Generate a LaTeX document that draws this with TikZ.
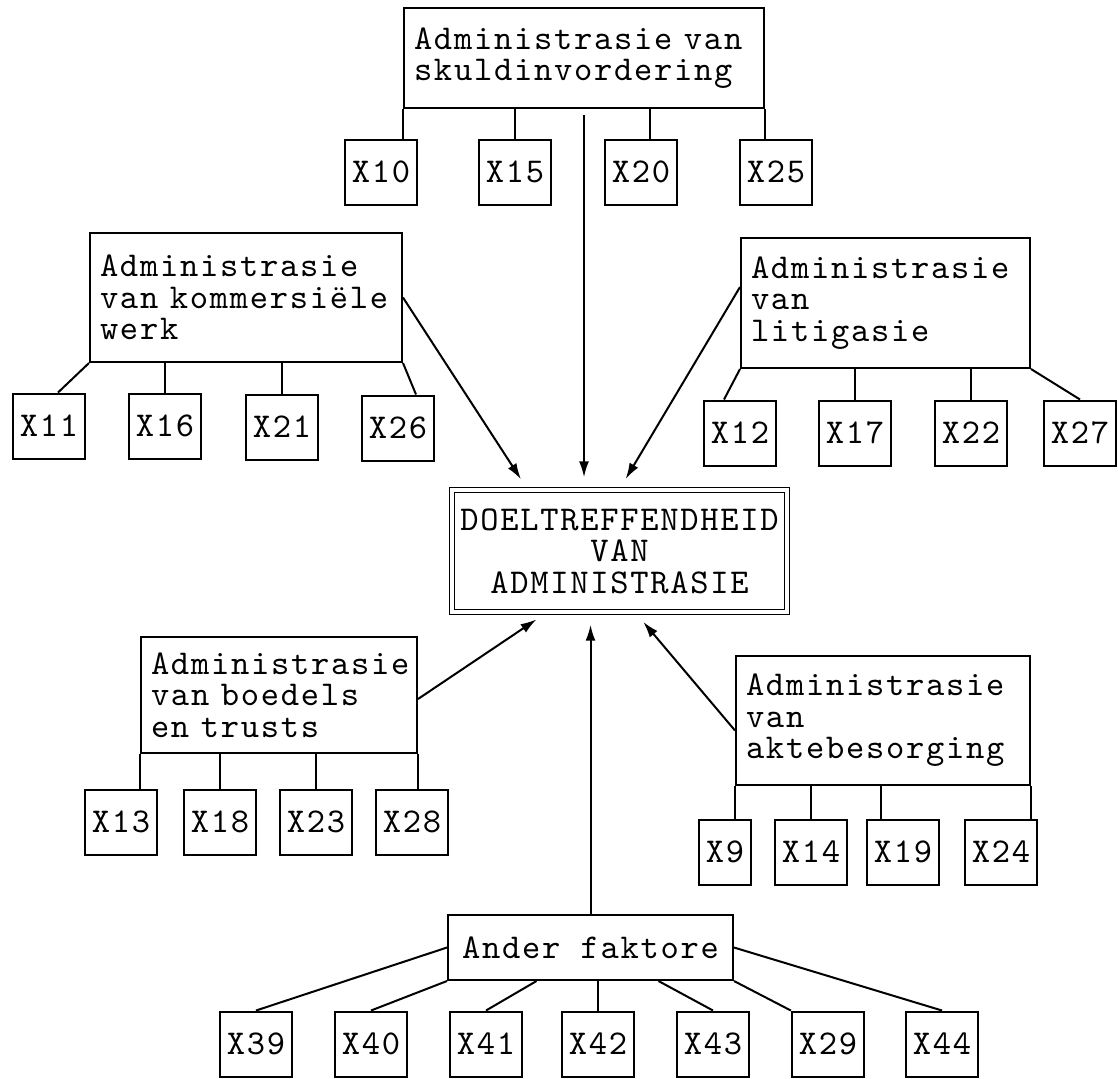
\documentclass[tikz,border=0pt]{standalone}
\usepackage{fontspec}
\newfontfamily\typew{lmmono10-regular.otf}[LetterSpace=5]
\usepackage{tikz}
\usetikzlibrary{arrows.meta}

\begin{document}
\begin{tikzpicture}[
    x=0.5pt, y=-0.5pt,
    every node/.style={font=\fontsize{17.4}{15.8}\selectfont\typew},
    admin/.style={draw, line width=1pt, align=left, inner xsep=5pt, inner ysep=0pt},
    target/.style={draw, double, double distance=1.6pt, line width=0.7pt, align=center, minimum width=167.5pt, minimum height=61pt},
    xbox/.style={draw, line width=1pt, inner xsep=3.5pt, minimum height=32.5pt},
    link/.style={line width=1pt},
    flow/.style={-{Latex[length=8pt,width=5pt]}, line width=1pt, shorten >=6pt}
]
\useasboundingbox (0,0) rectangle (1118,1078);
% main boxes
\node[admin, text width=170pt, minimum height=50pt] (skuld) at (584,58) {Administrasie van\\skuldinvordering};
\node[admin, text width=146pt, minimum height=64.5pt] (kommers) at (246,297.5) {Administrasie\\van kommersiële\\werk};
\node[admin, text width=134.5pt, minimum height=65pt] (litig) at (885.5,303) {Administrasie\\van\\litigasie};
\node[target] (doel) at (619.5,551) {DOELTREFFENDHEID\\VAN\\ADMINISTRASIE};
\node[admin, text width=128pt, minimum height=58pt] (boedel) at (279,695) {Administrasie\\van boedels\\en trusts};
\node[admin, text width=137pt, minimum height=64.5pt] (akte) at (883,720.5) {Administrasie\\van\\aktebesorging};
\node[admin, minimum width=142.5pt, minimum height=32.5pt] (ander) at (590.5,947.5) {Ander faktore};
% variables
\node[xbox] (x10) at (381,172) {X10};
\node[xbox] (x15) at (515,172) {X15};
\node[xbox] (x20) at (641,172) {X20};
\node[xbox] (x25) at (776,172) {X25};
\node[xbox] (x11) at (49,426) {X11};
\node[xbox] (x16) at (165,426) {X16};
\node[xbox] (x21) at (282,427) {X21};
\node[xbox] (x26) at (398,428) {X26};
\node[xbox] (x12) at (740,433) {X12};
\node[xbox] (x17) at (855,433) {X17};
\node[xbox] (x22) at (971,433) {X22};
\node[xbox] (x27) at (1080,433) {X27};
\node[xbox] (x13) at (121,822) {X13};
\node[xbox] (x18) at (220,822) {X18};
\node[xbox] (x23) at (316,822) {X23};
\node[xbox] (x28) at (412,822) {X28};
\node[xbox] (x9) at (725,852) {X9};
\node[xbox] (x14) at (811,852) {X14};
\node[xbox] (x19) at (903,852) {X19};
\node[xbox] (x24) at (1001,852) {X24};
\node[xbox] (x39) at (256,1044) {X39};
\node[xbox] (x40) at (371,1044) {X40};
\node[xbox] (x41) at (486,1044) {X41};
\node[xbox] (x42) at (598,1044) {X42};
\node[xbox] (x43) at (713,1044) {X43};
\node[xbox] (x29) at (828,1044) {X29};
\node[xbox] (x44) at (942,1044) {X44};
% ticks to variables
\coordinate (t20) at ([xshift=4.5pt]x20.north);
\coordinate (t19) at ([xshift=-11pt]x19.north);
\draw[link] (skuld.south west) -- (skuld.south west |- x10.north);
\draw[link] (x15.north) -- (x15.north |- skuld.south);
\draw[link] (t20) -- (t20 |- skuld.south);
\draw[link] (skuld.south east) -- (skuld.south east |- x25.north);
\draw[link] (kommers.south west) -- ([xshift=4.5pt]x11.north);
\draw[link] (x16.north) -- (x16.north |- kommers.south);
\draw[link] (x21.north) -- (x21.north |- kommers.south);
\draw[link] (kommers.south east) -- ([xshift=9pt]x26.north);
\draw[link] (litig.south west) -- ([xshift=-8pt]x12.north);
\draw[link] (x17.north) -- (x17.north |- litig.south);
\draw[link] (x22.north) -- (x22.north |- litig.south);
\draw[link] (litig.south east) -- (x27.north);
\draw[link] (boedel.south west) -- (boedel.south west |- x13.north);
\draw[link] (x18.north) -- (x18.north |- boedel.south);
\draw[link] (x23.north) -- (x23.north |- boedel.south);
\draw[link] (boedel.south east) -- (boedel.south east |- x28.north);
\draw[link] (akte.south west) -- (akte.south west |- x9.north);
\draw[link] (x14.north) -- (x14.north |- akte.south);
\draw[link] (t19) -- (t19 |- akte.south);
\draw[link] (akte.south east) -- (akte.south east |- x24.north);
\draw[link] (ander.west) -- (x39.north);
\draw[link] (ander.south west) -- (x40.north);
\draw[link] ([xshift=-27pt]ander.south) -- (x41.north);
\draw[link] (x42.north) -- (x42.north |- ander.south);
\draw[link] ([xshift=34pt]ander.south) -- (x43.north);
\draw[link] (ander.south east) -- (x29.north west);
\draw[link] (ander.east) -- (x44.north);
% arrows into the centre
\draw[flow] (kommers.east) -- ([xshift=-46pt]doel.north);
\draw[flow, shorten <=3pt] (skuld.south) -- (skuld.south |- doel.north);
\draw[flow] ([yshift=8pt]litig.west) -- (doel.north);
\draw[flow] ([yshift=-2pt]boedel.east) -- ([xshift=-36.5pt]doel.south);
\draw[flow] (ander.north) -- (ander.north |- doel.south);
\draw[flow] ([yshift=-5pt]akte.west) -- ([xshift=8pt]doel.south);
\end{tikzpicture}
\end{document}
